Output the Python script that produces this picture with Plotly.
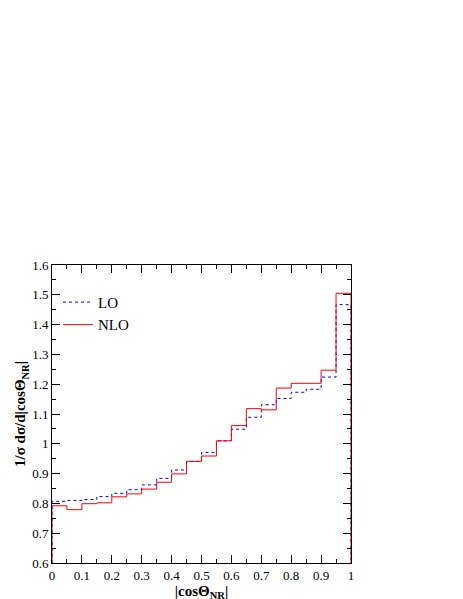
import plotly.graph_objects as go

edges = [i * 0.05 for i in range(21)]
nlo = [0.792, 0.779, 0.799, 0.802, 0.822, 0.832, 0.848, 0.871, 0.899, 0.941,
       0.959, 1.010, 1.061, 1.118, 1.114, 1.187, 1.203, 1.203, 1.247, 1.505]
lo = [0.807, 0.810, 0.813, 0.823, 0.834, 0.846, 0.862, 0.884, 0.912, 0.941,
      0.971, 1.010, 1.049, 1.089, 1.131, 1.152, 1.173, 1.183, 1.224, 1.467]
x_ticks = [0, 0.1, 0.2, 0.3, 0.4, 0.5, 0.6, 0.7, 0.8, 0.9, 1]
x_labels = ["0", "0.1", "0.2", "0.3", "0.4", "0.5", "0.6", "0.7", "0.8", "0.9", "1"]
y_ticks = [0.6, 0.7, 0.8, 0.9, 1.0, 1.1, 1.2, 1.3, 1.4, 1.5, 1.6]
y_labels = ["0.6", "0.7", "0.8", "0.9", "1", "1.1", "1.2", "1.3", "1.4", "1.5", "1.6"]
YMIN = 0.6

def step(vals):
    xs = [edges[0]] + edges + [edges[-1]]
    ys = [YMIN] + vals + [vals[-1], YMIN]
    return xs, ys

fig = go.Figure()
x, y = step(lo)
fig.add_trace(go.Scatter(x=x, y=y, mode="lines", line_shape="hv", name="LO",
                         line=dict(color="blue", width=1, dash="dot")))
x, y = step(nlo)
fig.add_trace(go.Scatter(x=x, y=y, mode="lines", line_shape="hv", name="NLO",
                         line=dict(color="red", width=1)))

font = dict(family="Liberation Serif", size=13, color="black")
ax = dict(showgrid=False, zeroline=False, showline=True, linecolor="black", mirror="ticks",
          ticks="inside", ticklen=8, tickcolor="black",
          minor=dict(ticks="inside", ticklen=4, tickcolor="black", dtick=0.05))
fig.update_xaxes(range=[0, 1], tickvals=x_ticks, ticktext=x_labels, tickangle=0, **ax,
                 title=dict(text="<b>|cosΘ<sub>NR</sub>|</b>", font=dict(family="Liberation Serif", size=15), standoff=0))
fig.update_yaxes(range=[0.6, 1.6], tickvals=y_ticks, ticktext=y_labels, **ax,
                 title=dict(text="<b>1/σ dσ/d|cosΘ<sub>NR</sub>|</b>", font=dict(family="Liberation Serif", size=15), standoff=2))
fig.update_layout(width=463, height=599, margin=dict(l=42, r=120, t=257, b=44),
                  plot_bgcolor="white", paper_bgcolor="white", font=font,
                  legend=dict(x=0.02, y=0.93, xanchor="left", yanchor="top", bgcolor="rgba(0,0,0,0)",
                              font=dict(family="Liberation Serif", size=15, color="black")))
fig.write_html("out.html")
